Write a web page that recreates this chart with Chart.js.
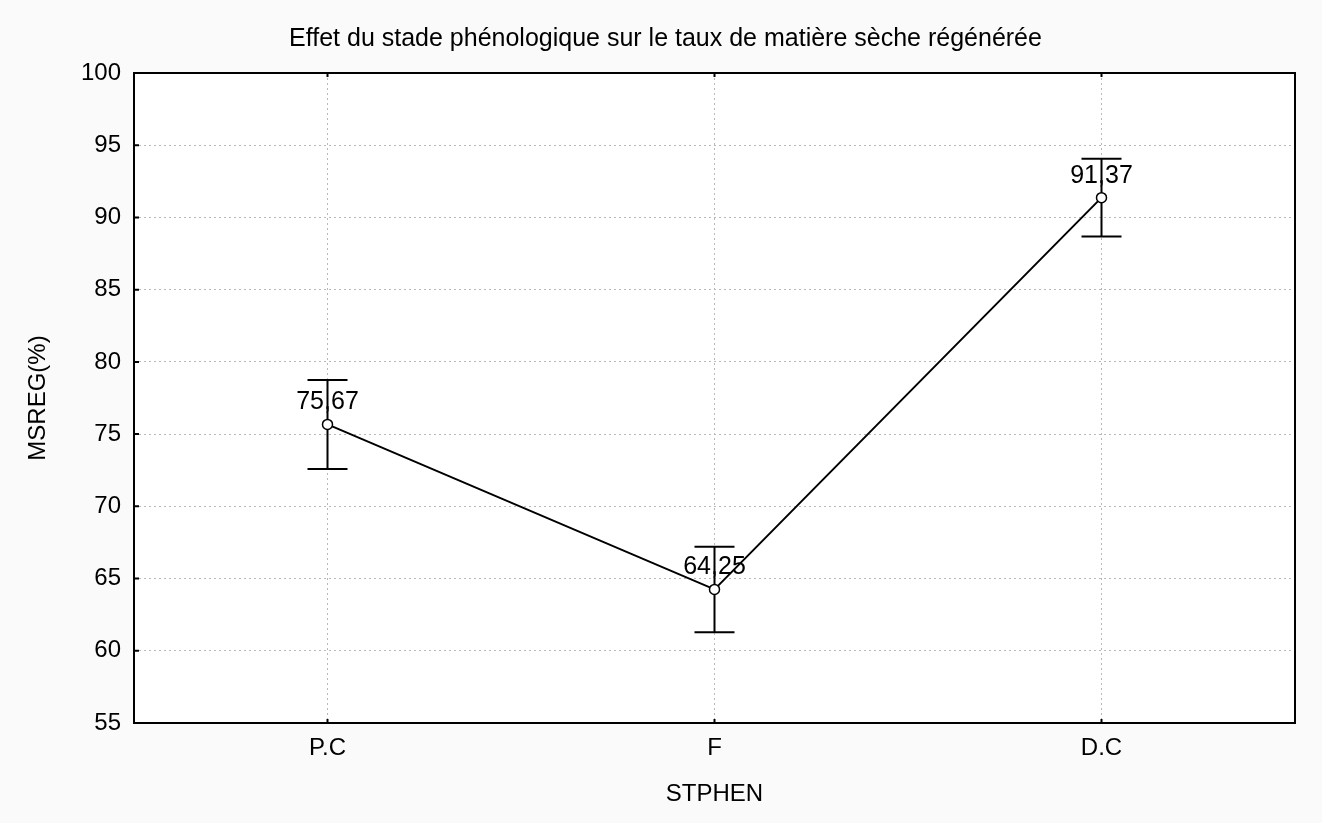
<!DOCTYPE html>
<html>
<head>
<meta charset="utf-8">
<script src="https://cdn.jsdelivr.net/npm/chart.js@4"></script>
<style>
  html, body { margin: 0; padding: 0; background: #fafafa; }
  #wrap { width: 1322px; height: 823px; }
</style>
</head>
<body>
<div id="wrap"><canvas id="stadeChart"></canvas></div>
<script>
// moyennes par stade phénologique et demi-intervalles
const stades = ["P.C", "F", "D.C"];
const msreg = [75.67, 64.25, 91.37];
const erreurs = [3.08, 2.96, 2.69];
const yTicks = [55, 60, 65, 70, 75, 80, 85, 90, 95, 100];

const FONT = "'Liberation Sans', Arial, sans-serif";

// fond blanc + cadre noir autour de la zone de tracé
const framePlugin = {
  id: "frame",
  beforeDraw(chart) {
    const { ctx, chartArea: a } = chart;
    ctx.save();
    ctx.fillStyle = "#ffffff";
    ctx.fillRect(a.left, a.top, a.right - a.left, a.bottom - a.top);
    ctx.restore();
  },
  afterDatasetsDraw(chart) {
    const { ctx, chartArea: a, scales } = chart;
    ctx.save();
    ctx.strokeStyle = "#000";
    ctx.lineWidth = 2;
    ctx.beginPath();
    // petites graduations vers l'intérieur
    yTicks.forEach(v => {
      const y = scales.y.getPixelForValue(v);
      ctx.moveTo(a.left, y);
      ctx.lineTo(a.left + 5, y);
    });
    stades.forEach((s, i) => {
      const x = scales.x.getPixelForValue(i);
      ctx.moveTo(x, a.bottom);
      ctx.lineTo(x, a.bottom - 4);
      ctx.moveTo(x, a.top);
      ctx.lineTo(x, a.top + 4);
    });
    ctx.stroke();
    ctx.strokeRect(a.left, a.top, a.right - a.left, a.bottom - a.top);
    ctx.restore();
  }
};

// barres d'erreur + étiquettes de valeur
const errorBarPlugin = {
  id: "errorBars",
  beforeDatasetsDraw(chart) {
    const { ctx, scales } = chart;
    ctx.save();
    ctx.strokeStyle = "#000";
    ctx.lineWidth = 2;
    msreg.forEach((m, i) => {
      const x = scales.x.getPixelForValue(i);
      const yHi = scales.y.getPixelForValue(m + erreurs[i]);
      const yLo = scales.y.getPixelForValue(m - erreurs[i]);
      ctx.beginPath();
      ctx.moveTo(x, yHi);
      ctx.lineTo(x, yLo);
      ctx.moveTo(x - 20, yHi);
      ctx.lineTo(x + 20, yHi);
      ctx.moveTo(x - 20, yLo);
      ctx.lineTo(x + 20, yLo);
      ctx.stroke();
    });
    ctx.restore();
  },
  afterDatasetsDraw(chart) {
    const { ctx, scales } = chart;
    ctx.save();
    ctx.fillStyle = "#000";
    ctx.font = "25px " + FONT;
    ctx.textAlign = "center";
    ctx.textBaseline = "alphabetic";
    msreg.forEach((m, i) => {
      const x = scales.x.getPixelForValue(i);
      const y = scales.y.getPixelForValue(m);
      ctx.fillText(m.toFixed(2).replace(".", ","), x, y - 15);
    });
    ctx.restore();
  }
};

new Chart(document.getElementById("stadeChart"), {
  type: "line",
  data: {
    labels: stades,
    datasets: [{
      data: msreg,
      borderColor: "#000",
      borderWidth: 2,
      tension: 0,
      fill: false,
      pointRadius: 5,
      pointBorderWidth: 1.5,
      pointBorderColor: "#000",
      pointBackgroundColor: "#fff"
    }]
  },
  options: {
    responsive: true,
    maintainAspectRatio: false,
    animation: false,
    layout: { padding: { left: 36, right: 27, top: 0, bottom: 0 } },
    plugins: {
      legend: { display: false },
      tooltip: { enabled: false },
      title: {
        display: true,
        text: "Effet du stade phénologique sur le taux de matière sèche régénérée",
        color: "#000",
        font: { size: 25, family: FONT, weight: "normal" },
        padding: { top: 24, bottom: 19 }
      }
    },
    scales: {
      x: {
        offset: true,
        grid: {
          color: "#b8b8b8",
          lineWidth: 1,
          drawTicks: false,
          offset: false
        },
        border: { display: false, dash: [2, 3] },
        ticks: {
          color: "#000",
          padding: 11,
          font: { size: 24, family: FONT }
        },
        title: {
          display: true,
          text: "STPHEN",
          color: "#000",
          font: { size: 24, family: FONT },
          padding: { top: 0, bottom: 14 }
        },
        afterFit(scale) { scale.height = 100; }
      },
      y: {
        min: 55,
        max: 100,
        grid: {
          color: "#b8b8b8",
          lineWidth: 1,
          drawTicks: false
        },
        border: { display: false, dash: [2, 3] },
        ticks: {
          stepSize: 5,
          color: "#000",
          padding: 13,
          font: { size: 24, family: FONT }
        },
        title: {
          display: true,
          text: "MSREG(%)",
          color: "#000",
          font: { size: 24, family: FONT },
          padding: { top: -12, bottom: 0 }
        },
        afterFit(scale) { scale.width = 98; }
      }
    }
  },
  plugins: [framePlugin, errorBarPlugin]
});
</script>
</body>
</html>
